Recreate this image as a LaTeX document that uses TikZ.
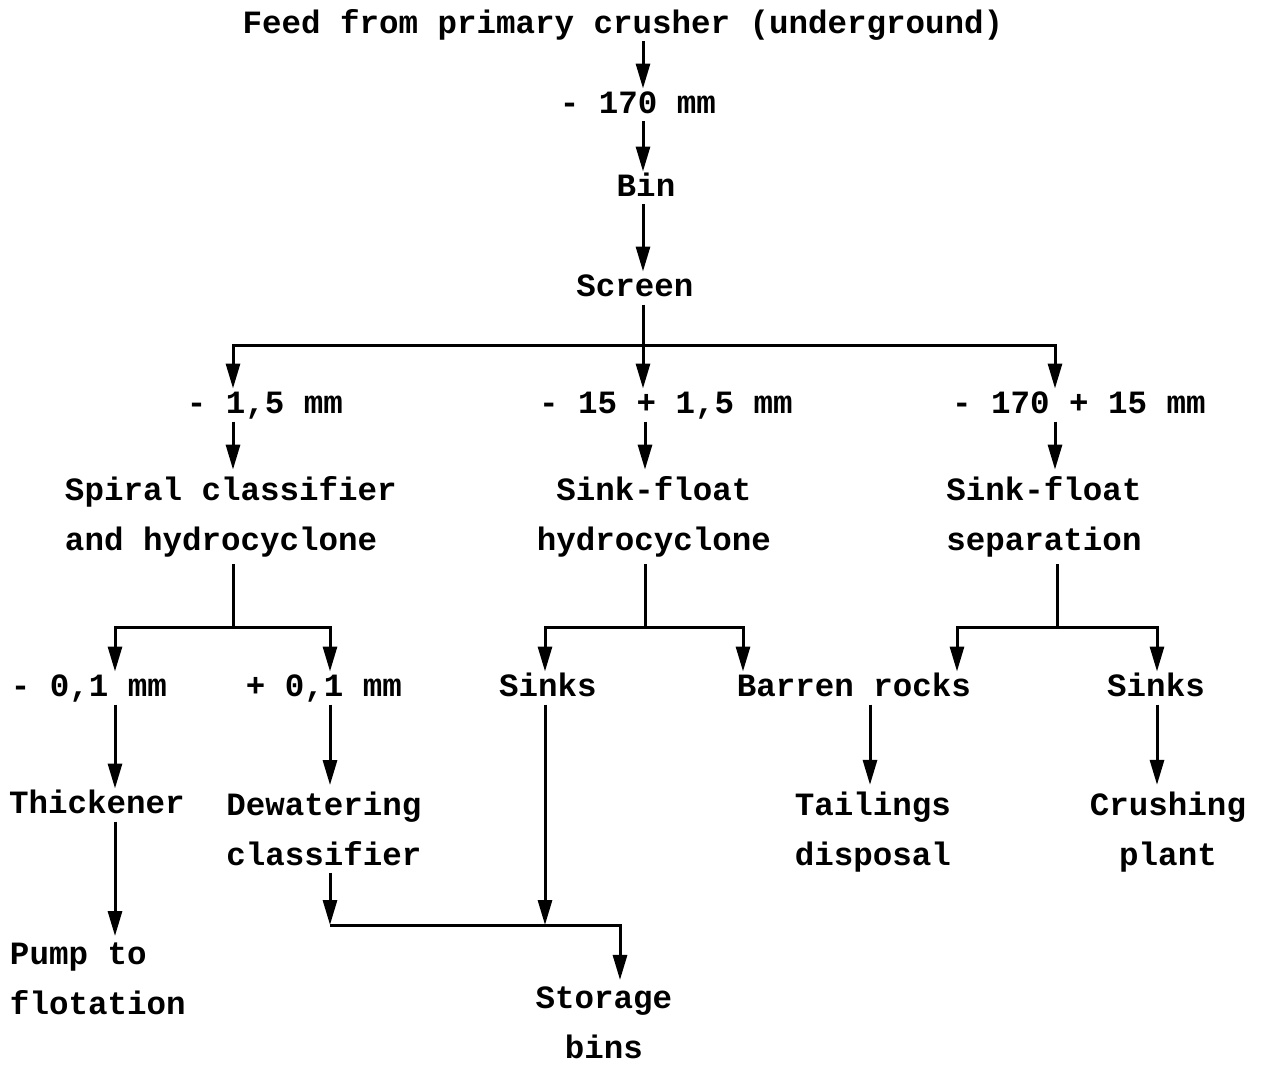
\documentclass[tikz,border=0pt]{standalone}
\usepackage{fontspec}
\setmainfont{Liberation Mono}
\usetikzlibrary{arrows.meta}

\begin{document}
\begin{tikzpicture}[x=0.02cm, y=-0.02cm, line width=0.06cm,
    stream/.style={inner sep=0pt, outer sep=0.04cm, font=\bfseries\fontsize{18.5pt}{28.45pt}\selectfont, text height=0.45cm, text depth=0.13cm},
    unit/.style={inner sep=0pt, outer sep=0.14cm, font=\bfseries\fontsize{18.5pt}{28.45pt}\selectfont, align=center},
    flow/.style={-{Triangle[width=0.28cm,length=0.5cm]}}]

    \useasboundingbox (0,0) rectangle (1262,1065);

    % main trunk
    \node [stream] (feed) at (623,25) {Feed from primary crusher (underground)};
    \node [stream] (s170) at (638,105) {- 170 mm};
    \node [stream] (bin) at (646,188) {Bin};
    \node [stream] (screen) at (635,288) {Screen};

    % screen products
    \node [stream] (fine) at (265,405) {- 1,5 mm};
    \node [stream] (mid) at (666,405) {- 15 + 1,5 mm};
    \node [stream] (coarse) at (1079,405) {- 170 + 15 mm};
    \node [unit, align=left, anchor=west] (spiral) at (58,517) {Spiral classifier\\and hydrocyclone};
    \node [unit] (cyclone) at (654,517) {Sink-float\\hydrocyclone};
    \node [unit] (separ) at (1044,517) {Sink-float\\separation};

    % second split
    \node [stream] (ufine) at (89,688) {- 0,1 mm};
    \node [stream] (pfine) at (324,688) {+ 0,1 mm};
    \node [stream] (sinksB) at (548,688) {Sinks};
    \node [stream] (barren) at (854,688) {Barren rocks};
    \node [stream] (sinksC) at (1156,688) {Sinks};

    % end products
    \node [stream] (thick) at (97,805) {Thickener};
    \node [unit] (dew) at (324,829) {Dewatering\\classifier};
    \node [unit] (tail) at (873,832) {Tailings\\disposal};
    \node [unit] (crush) at (1168,832) {Crushing\\plant};
    \node [unit, align=left, anchor=west] (pump) at (3,979) {Pump to\\flotation};
    \node [unit] (store) at (604,1023) {Storage\\bins};

    % columns and junctions
    \coordinate (trunk) at (643,0);
    \coordinate (split) at (643,345);
    \coordinate (colA) at (233,0);
    \coordinate (colC) at (1055,0);
    \coordinate (splitA) at (233,627);
    \coordinate (splitB) at (645,627);
    \coordinate (splitC) at (1057,627);
    \coordinate (colA1) at (115,0);
    \coordinate (colA2) at (330,0);
    \coordinate (colB1) at (545,0);
    \coordinate (colB2) at (743,0);
    \coordinate (colC1) at (957,0);
    \coordinate (colC2) at (1157,0);
    \coordinate (colTail) at (870,0);
    \coordinate (join) at (620,925);

    \draw [flow] (feed.south -| trunk) -- (s170.north -| trunk);
    \draw [flow] (s170.south -| trunk) -- (bin.north -| trunk);
    \draw [flow] (bin.south -| trunk) -- (screen.north -| trunk);
    \draw (screen.south -| trunk) -- (split);
    \draw [flow] (split) -- (mid.north -| split);
    \draw [flow] (split) -| (fine.north -| colA);
    \draw [flow] (split) -| (coarse.north -| colC);

    \draw [flow] (fine.south -| colA) -- (spiral.north -| colA);
    \draw [flow] (mid.south -| splitB) -- (cyclone.north -| splitB);
    \draw [flow] (coarse.south -| colC) -- (separ.north -| colC);

    \draw (spiral.south -| splitA) -- (splitA);
    \draw [flow] (splitA) -| (ufine.north -| colA1);
    \draw [flow] (splitA) -| (pfine.north -| colA2);
    \draw (cyclone.south -| splitB) -- (splitB);
    \draw [flow] (splitB) -| (sinksB.north -| colB1);
    \draw [flow] (splitB) -| (barren.north -| colB2);
    \draw (separ.south -| splitC) -- (splitC);
    \draw [flow] (splitC) -| (barren.north -| colC1);
    \draw [flow] (splitC) -| (sinksC.north -| colC2);

    \draw [flow] (ufine.south -| colA1) -- (thick.north -| colA1);
    \draw [flow] (thick.south -| colA1) -- (pump.north -| colA1);
    \draw [flow] (pfine.south -| colA2) -- (dew.north -| colA2);
    \draw [flow] (barren.south -| colTail) -- (tail.north -| colTail);
    \draw [flow] (sinksC.south -| colC2) -- (crush.north -| colC2);

    \draw [flow] (dew.south -| colA2) -- (join -| colA2);
    \draw [flow] (sinksB.south -| colB1) -- (join -| colB1);
    \draw [flow] (join -| colA2) -| (store.north -| join);
\end{tikzpicture}
\end{document}
